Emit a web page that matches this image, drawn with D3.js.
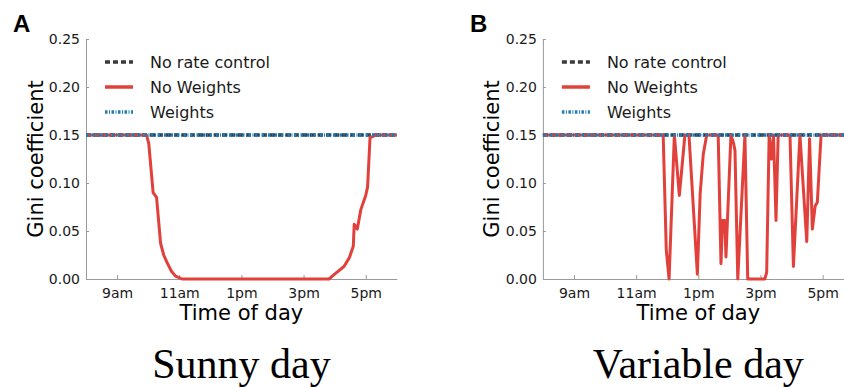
<!DOCTYPE html>
<html>
<head>
<meta charset="utf-8">
<script src="https://cdn.jsdelivr.net/npm/d3@7"></script>
<style>
  body { margin: 0; background: #fff; }
  svg { display: block; }
</style>
</head>
<body>
<div id="chart"></div>
<script>
// data (hour of day, Gini coefficient)
var dayRange = [8, 18];
var tickHours = [9, 11, 13, 15, 17];
var tickLabels = ["9am", "11am", "1pm", "3pm", "5pm"];
var giniTicks = [0, 0.05, 0.10, 0.15, 0.20, 0.25];

// flat reference series (no rate control, weights)
var flatHours = [8, 18];
var flatGini = [0.15, 0.15];

// Sunny day, No Weights
var sunnyHours = [8, 9.95, 10.02, 10.16, 10.27, 10.40, 10.50, 10.61, 10.75, 10.88, 11.09,
                  15.82, 15.98, 16.30, 16.47, 16.60, 16.63, 16.73, 16.84, 17.00, 17.06, 17.14, 17.20, 17.32, 18];
var sunnyGini  = [0.15, 0.15, 0.141, 0.090, 0.085, 0.037, 0.025, 0.017, 0.008, 0.003, 0,
                  0, 0.0045, 0.013, 0.022, 0.034, 0.057, 0.052, 0.072, 0.087, 0.096, 0.148, 0.148, 0.15, 0.15];

// Variable day, No Weights
var variableHours = [8, 11.87, 11.97, 12.06, 12.23, 12.39, 12.57, 12.70, 12.97, 13.06, 13.16, 13.27,
                     13.64, 13.73, 13.78, 13.85, 13.89, 14.05, 14.13, 14.18, 14.27, 14.50, 14.59,
                     15.14, 15.20, 15.28, 15.35, 15.42, 15.50, 15.57, 15.95, 16.06, 16.27, 16.49,
                     16.58, 16.67, 16.76, 16.83, 16.95, 18];
var variableGini  = [0.15, 0.15, 0.030, 0, 0.15, 0.087, 0.15, 0.15, 0.005, 0.089, 0.13, 0.15,
                     0.15, 0.016, 0.061, 0.061, 0.023, 0.15, 0.142, 0.134, 0, 0.15, 0,
                     0, 0.007, 0.15, 0.125, 0.15, 0.061, 0.15, 0.15, 0.013, 0.15, 0.039,
                     0.146, 0.052, 0.076, 0.080, 0.15, 0.15];

var legendNames = ["No rate control", "No Weights", "Weights"];
var seriesColor = ["#3a3a3a", "#e2403a", "#1f7bb8"];
var seriesDash = ["5,3", null, "2.5,1.5,1,1.5"];

var W = 844, H = 387;
var svg = d3.select("#chart").append("svg")
  .attr("width", W)
  .attr("height", H);

function drawPanel(left, hours, gini, letter, title) {
  var plotW = 310.8, top = 39, bottom = 279;
  var x = d3.scaleLinear().domain(dayRange).range([left, left + plotW]);
  var y = d3.scaleLinear().domain([0, 0.25]).range([bottom, top]);
  var g = svg.append("g");

  //axes
  var xAxis = g.append("g")
    .attr("transform", "translate(0," + bottom + ")")
    .call(d3.axisBottom(x).tickValues(tickHours)
      .tickFormat(function(d, i) { return tickLabels[i]; })
      .tickSizeInner(-4).tickSizeOuter(0).tickPadding(9));
  var yAxis = g.append("g")
    .attr("transform", "translate(" + left + ",0)")
    .call(d3.axisLeft(y).tickValues(giniTicks)
      .tickFormat(d3.format(".2f"))
      .tickSizeInner(-3).tickSizeOuter(0).tickPadding(6));
  [xAxis, yAxis].forEach(function(a) {
    a.attr("font-family", "DejaVu Sans").attr("font-size", 14);
    a.selectAll("path, line").attr("stroke", "#9a9a9a").attr("stroke-width", 1);
    a.selectAll("text").attr("fill", "#1a1a1a");
  });

  //axis titles
  g.append("text")
    .attr("transform", "translate(" + (left - 43.5) + "," + ((top + bottom) / 2) + ") rotate(-90)")
    .attr("text-anchor", "middle")
    .style("font-family", "DejaVu Sans")
    .style("font-size", "21px")
    .text("Gini coefficient");
  g.append("text")
    .attr("x", left + plotW / 2)
    .attr("y", 320)
    .attr("text-anchor", "middle")
    .style("font-family", "DejaVu Sans")
    .style("font-size", "21px")
    .text("Time of day");

  //series lines
  var line = d3.line()
    .x(function(d) { return x(d[0]); })
    .y(function(d) { return y(d[1]); });
  var seriesData = [
    d3.zip(flatHours, flatGini),
    d3.zip(hours, gini),
    d3.zip(flatHours, flatGini)
  ];
  seriesData.forEach(function(pts, i) {
    g.append("path")
      .attr("d", line(pts))
      .attr("fill", "none")
      .attr("stroke", seriesColor[i])
      .attr("stroke-width", i == 1 ? 3 : 3.5)
      .attr("stroke-linejoin", "round")
      .attr("stroke-dasharray", seriesDash[i]);
  });

  //legend
  legendNames.forEach(function(name, i) {
    var ly = 62 + i * 25;
    g.append("line")
      .attr("x1", left + 19).attr("x2", left + 47)
      .attr("y1", ly).attr("y2", ly)
      .attr("stroke", seriesColor[i])
      .attr("stroke-width", 3.5)
      .attr("stroke-dasharray", seriesDash[i]);
    g.append("text")
      .attr("x", left + 64)
      .attr("y", ly)
      .attr("dy", "0.35em")
      .style("font-family", "DejaVu Sans")
      .style("font-size", "16px")
      .style("fill", "#1a1a1a")
      .text(name);
  });

  //panel letter and caption
  g.append("text")
    .attr("x", left - 73)
    .attr("y", 32)
    .style("font-family", "Liberation Sans")
    .style("font-weight", "bold")
    .style("font-size", "24px")
    .text(letter);
  g.append("text")
    .attr("x", left + plotW / 2)
    .attr("y", 378)
    .attr("text-anchor", "middle")
    .style("font-family", "Liberation Serif")
    .style("font-size", "42px")
    .text(title);
}

drawPanel(86, sunnyHours, sunnyGini, "A", "Sunny day");
drawPanel(542.9, variableHours, variableGini, "B", "Variable day");
</script>
</body>
</html>
